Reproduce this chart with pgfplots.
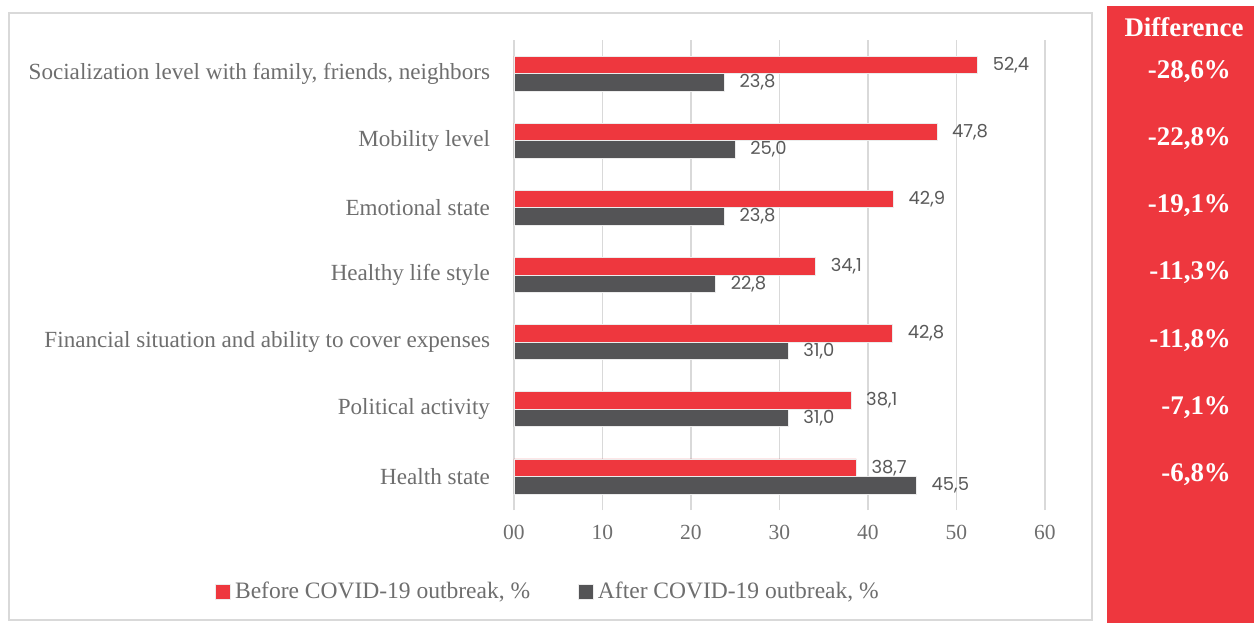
\documentclass[border=0pt]{standalone}
\usepackage{fontspec}
\setmainfont{Liberation Serif}
\newfontfamily\popfont{Poppins}
\usepackage{pgfplots}
\pgfplotsset{compat=1.18}
\definecolor{cRed}{HTML}{EE373E}
\definecolor{cGray}{HTML}{545456}
\definecolor{cText}{HTML}{6E6E6E}
\definecolor{cVal}{HTML}{595959}
\definecolor{cGrid}{HTML}{D9D9D9}

\begin{document}
\begin{tikzpicture}
\useasboundingbox (-257bp,-56.5bp) rectangle (370bp,255bp);
% chart frame and difference panel
\draw[cGrid, line width=0.8bp] (-252.5bp,-55bp) rectangle (289bp,248.5bp);
\fill[cRed] (296.5bp,-56.5bp) rectangle (370bp,252bp);
\node[text=white, font=\fontsize{13.5}{15}\selectfont\bfseries] at (335bp,241.5bp) {Difference};
\begin{axis}[
  xbar, scale only axis, width=265.5bp, height=235bp,
  xmin=0, xmax=60, ymin=-0.5, ymax=6.5, clip=false,
  bar width=8.75bp,
  axis line style={draw=none}, major tick length=0pt,
  xmajorgrids, grid style={cGrid, line width=0.6bp},
  xtick={0,10,...,60}, xticklabels={00,10,20,30,40,50,60},
  ytick={0,...,6},
  yticklabels={Health state, Political activity,
    Financial situation and ability to cover expenses, Healthy life style,
    Emotional state, Mobility level,
    {Socialization level with family, friends, neighbors}},
  ticklabel style={text=cText, font=\fontsize{10.8}{12}\selectfont},
  yticklabel style={xshift=-8.5bp, font=\fontsize{11.6}{13}\selectfont},
  xticklabel style={yshift=-4bp},
  /pgf/number format/assume math mode=true,
  nodes near coords={\pgfmathprintnumber[fixed, fixed zerofill, precision=1, use comma]{\pgfplotspointmeta}},
  point meta=x,
  nodes near coords style={font=\popfont\fontsize{9}{10}\selectfont, text=cVal, anchor=west, xshift=4bp},
  legend style={at={(axis description cs:0.066,-0.174)}, anchor=center, draw=none,
    legend columns=2, /tikz/every even column/.append style={column sep=22bp},
    font=\fontsize{11.8}{13}\selectfont, text=cText},
  legend image code/.code={\fill[#1] (0bp,-3.75bp) rectangle (7.5bp,3.75bp);},
]
\addplot[fill=cRed, draw=white!85!gray, line width=0.4bp, bar shift=4.375bp]
  coordinates {(38.7,0) (38.1,1) (42.8,2) (34.1,3) (42.9,4) (47.8,5) (52.4,6)};
\addplot[fill=cGray, draw=white!85!gray, line width=0.4bp, bar shift=-4.375bp]
  coordinates {(45.5,0) (31.0,1) (31.0,2) (22.8,3) (23.8,4) (25.0,5) (23.8,6)};
\legend{{Before COVID-19 outbreak, \%}, {After COVID-19 outbreak, \%}}
\begin{scope}[every node/.style={anchor=east, text=white, font=\fontsize{13.5}{15}\selectfont\bfseries, yshift=1bp}]
\node at (axis cs:81.8,6) {-28,6\%};
\node at (axis cs:81.8,5) {-22,8\%};
\node at (axis cs:81.8,4) {-19,1\%};
\node at (axis cs:81.8,3) {-11,3\%};
\node at (axis cs:81.8,2) {-11,8\%};
\node at (axis cs:81.8,1) {-7,1\%};
\node at (axis cs:81.8,0) {-6,8\%};
\end{scope}
\end{axis}
\end{tikzpicture}
\end{document}
